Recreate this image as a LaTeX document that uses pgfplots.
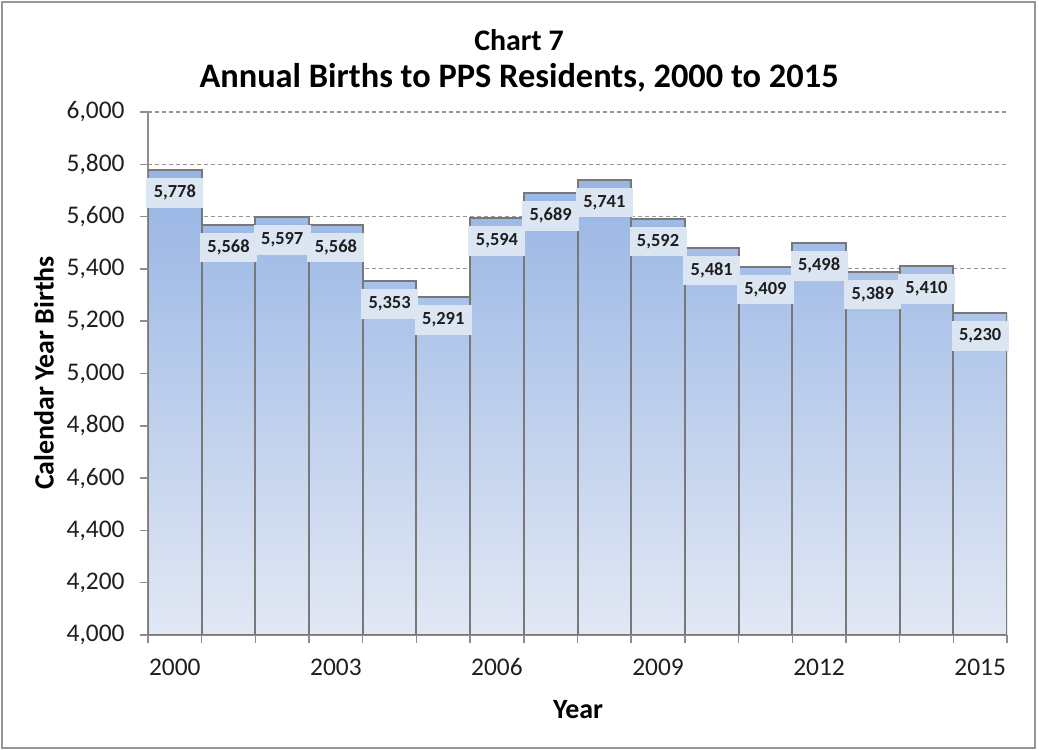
\documentclass[border=0pt]{standalone}
\usepackage{pgfplots}
\pgfplotsset{compat=1.18}
\usepackage{fontspec}
\setmainfont{Carlito}
\definecolor{framec}{RGB}{150,150,150}
\definecolor{gridc}{RGB}{150,150,150}
\definecolor{axc}{RGB}{140,140,140}
\definecolor{barborder}{RGB}{120,120,120}
\definecolor{bartop}{RGB}{150,180,228}
\definecolor{barbot}{RGB}{226,232,244}
\definecolor{lblc}{RGB}{220,230,242}
\definecolor{txtc}{RGB}{30,30,30}
\begin{document}
\begin{tikzpicture}
\path[use as bounding box] (0bp,0bp) rectangle (1039bp,750bp);
\draw[line width=2.5bp, framec] (2bp,2bp) rectangle (1035bp,748bp);
\begin{axis}[
  at={(148bp,115bp)}, anchor=south west,
  scale only axis, width=859bp, height=523bp,
  xmin=1999.5, xmax=2015.5, ymin=4000, ymax=6000,
  axis x line*=bottom, axis y line*=left,
  axis line style={-, draw=axc, line width=1.5bp},
  ytick={4000,4200,...,6000},
  xtick={2000,2003,...,2015},
  xticklabels={2000,2003,2006,2009,2012,2015},
  minor xtick={1999.5,2000.5,...,2015.5},
  tick align=outside,
  major tick length=8bp, minor tick length=8bp,
  major x tick style={draw=none},
  tick style={draw=axc, line width=1.5bp},
  ymajorgrids,
  major grid style={draw=gridc, line width=1.2bp, dash pattern=on 4bp off 3bp},
  /pgf/number format/1000 sep={,},
  /pgf/number format/assume math mode=true,
  ticklabel style={font=\fontsize{25.5}{30}\selectfont, text=txtc},
  yticklabel style={xshift=-12bp},
  xticklabel style={yshift=-12bp},
  ]
\addplot[ybar, bar width=1, draw=barborder, line width=2bp,
  top color=bartop, bottom color=barbot,
  nodes near coords,
  nodes near coords style={anchor=north, yshift=-7bp, fill=lblc,
    font=\bfseries\fontsize{18.5}{22}\selectfont, text=txtc,
    text height=12.5bp, text depth=3bp, inner ysep=7bp, minimum width=57bp,
    /pgf/number format/1000 sep={,}, /pgf/number format/assume math mode=true},
  ] coordinates {
  (2000,5778) (2001,5568) (2002,5597) (2003,5568) (2004,5353) (2005,5291)
  (2006,5594) (2007,5689) (2008,5741) (2009,5592) (2010,5481) (2011,5409)
  (2012,5498) (2013,5389) (2014,5410) (2015,5230)
};
\end{axis}
\node[font=\bfseries\fontsize{30}{34}\selectfont, text=black] at (519bp,710bp) {Chart 7};
\node[font=\bfseries\fontsize{34.5}{40}\selectfont, text=black] at (519bp,672bp) {Annual Births to PPS Residents, 2000 to 2015};
\node[font=\bfseries\fontsize{28}{32}\selectfont, text=black, rotate=90] at (44bp,377bp) {Calendar Year Births};
\node[font=\bfseries\fontsize{28}{32}\selectfont, text=black] at (578bp,40bp) {Year};
\end{tikzpicture}
\end{document}
